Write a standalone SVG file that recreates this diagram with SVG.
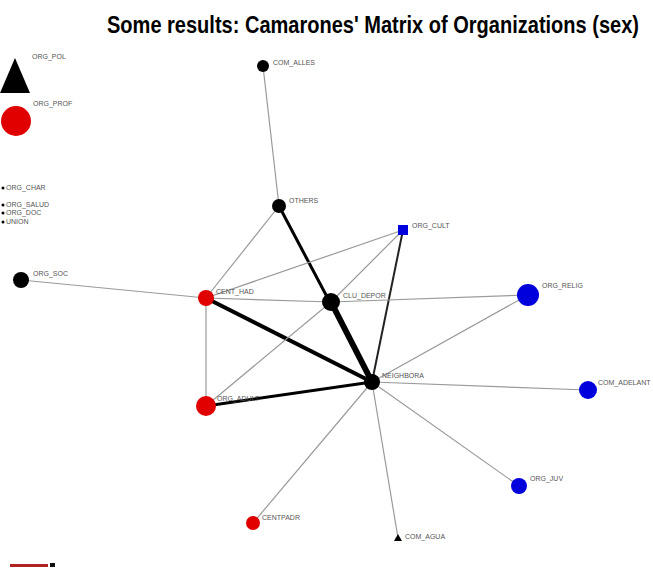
<svg xmlns="http://www.w3.org/2000/svg" width="653" height="570" viewBox="0 0 653 570">
  <style>
    .title { font-family: "Liberation Sans", Arial, sans-serif; font-weight: bold; font-size: 20px; fill: #000; }
    .lbl { font-family: "Liberation Sans", Arial, sans-serif; font-size: 7px; fill: #555; }
    .e1 { stroke: #9a9a9a; stroke-width: 1.2; fill: none; }
    .e2 { stroke: #222; stroke-width: 2; fill: none; }
    .e3 { stroke: #000; stroke-width: 3; fill: none; }
    .e4 { stroke: #000; stroke-width: 4; fill: none; }
    .e6 { stroke: #000; stroke-width: 6; fill: none; }
    .f { fill: #000; }
    .m { fill: #e00000; }
    .c { fill: #0000dd; }
  </style>
  <rect width="653" height="570" fill="#fff"/>

  <!-- heading, stretched vertically for a condensed look -->
  <g transform="translate(107,33) scale(1,1.2)">
    <text class="title" x="0" y="0" textLength="532" lengthAdjust="spacingAndGlyphs">Some results: Camarones' Matrix of Organizations (sex)</text>
  </g>

  <g id="edges">
    <line class="e1" x1="263" y1="66" x2="279" y2="206"/>
    <line class="e1" x1="279" y1="206" x2="206" y2="298"/>
    <line class="e3" x1="279" y1="206" x2="372" y2="382"/>
    <line class="e1" x1="403" y1="230" x2="206" y2="298"/>
    <line class="e1" x1="403" y1="230" x2="331" y2="302"/>
    <line class="e2" x1="403" y1="230" x2="372" y2="382"/>
    <line class="e1" x1="21" y1="280" x2="206" y2="298"/>
    <line class="e1" x1="206" y1="298" x2="331" y2="302"/>
    <line class="e1" x1="331" y1="302" x2="528" y2="295"/>
    <line class="e4" x1="206" y1="298" x2="372" y2="382"/>
    <line class="e1" x1="206" y1="298" x2="206" y2="406"/>
    <line class="e6" x1="331" y1="302" x2="372" y2="382"/>
    <line class="e1" x1="331" y1="302" x2="206" y2="406"/>
    <line class="e3" x1="206" y1="406" x2="372" y2="382"/>
    <line class="e1" x1="528" y1="295" x2="372" y2="382"/>
    <line class="e1" x1="372" y1="382" x2="588" y2="390"/>
    <line class="e1" x1="372" y1="382" x2="519" y2="486"/>
    <line class="e1" x1="372" y1="382" x2="253" y2="523"/>
    <line class="e1" x1="372" y1="382" x2="398" y2="538"/>
  </g>

  <g id="ORG_POL">
    <polygon class="f" points="15,58 30,93 0,93"/>
    <text class="lbl" x="32" y="59">ORG_POL</text>
  </g>
  <g id="ORG_PROF">
    <circle class="m" cx="16" cy="121" r="15"/>
    <text class="lbl" x="33" y="106">ORG_PROF</text>
  </g>
  <g id="ORG_CHAR">
    <circle class="f" cx="3" cy="188" r="1.5"/>
    <text class="lbl" x="6" y="190">ORG_CHAR</text>
  </g>
  <g id="ORG_SALUD">
    <circle class="f" cx="3" cy="205" r="1.5"/>
    <text class="lbl" x="6" y="207">ORG_SALUD</text>
  </g>
  <g id="ORG_DOC">
    <circle class="f" cx="3" cy="213" r="1.5"/>
    <text class="lbl" x="6" y="215">ORG_DOC</text>
  </g>
  <g id="UNION">
    <circle class="f" cx="3" cy="222" r="1.5"/>
    <text class="lbl" x="6" y="224">UNION</text>
  </g>
  <g id="ORG_SOC">
    <circle class="f" cx="21" cy="280" r="8"/>
    <text class="lbl" x="33" y="276">ORG_SOC</text>
  </g>
  <g id="COM_ALLES">
    <circle class="f" cx="263" cy="66" r="6"/>
    <text class="lbl" x="273" y="65">COM_ALLES</text>
  </g>
  <g id="OTHERS">
    <circle class="f" cx="279" cy="206" r="7"/>
    <text class="lbl" x="289" y="203">OTHERS</text>
  </g>
  <g id="ORG_CULT">
    <rect class="c" x="398" y="225" width="10" height="10"/>
    <text class="lbl" x="412" y="228">ORG_CULT</text>
  </g>
  <g id="CENT_HAD">
    <circle class="m" cx="206" cy="298" r="8"/>
    <text class="lbl" x="216" y="294">CENT_HAD</text>
  </g>
  <g id="CLU_DEPOR">
    <circle class="f" cx="331" cy="302" r="9"/>
    <text class="lbl" x="343" y="298">CLU_DEPOR</text>
  </g>
  <g id="ORG_RELIG">
    <circle class="c" cx="528" cy="295" r="11"/>
    <text class="lbl" x="542" y="288">ORG_RELIG</text>
  </g>
  <g id="NEIGHBORA">
    <circle class="f" cx="372" cy="382" r="8"/>
    <text class="lbl" x="382" y="378">NEIGHBORA</text>
  </g>
  <g id="ORG_ADULT">
    <circle class="m" cx="206" cy="406" r="10"/>
    <text class="lbl" x="217" y="401">ORG_ADULT</text>
  </g>
  <g id="COM_ADELANT">
    <circle class="c" cx="588" cy="390" r="9"/>
    <text class="lbl" x="598" y="385">COM_ADELANT</text>
  </g>
  <g id="ORG_JUV">
    <circle class="c" cx="519" cy="486" r="8"/>
    <text class="lbl" x="530" y="481">ORG_JUV</text>
  </g>
  <g id="CENTPADR">
    <circle class="m" cx="253" cy="523" r="7"/>
    <text class="lbl" x="262" y="520">CENTPADR</text>
  </g>
  <g id="COM_AGUA">
    <polygon class="f" points="398,534 402,541 394,541"/>
    <text class="lbl" x="405" y="539">COM_AGUA</text>
  </g>

  <g id="scale">
    <rect x="10" y="564" width="38" height="3" fill="#b22020"/>
    <rect x="50" y="563" width="5" height="4" fill="#111"/>
  </g>
</svg>
